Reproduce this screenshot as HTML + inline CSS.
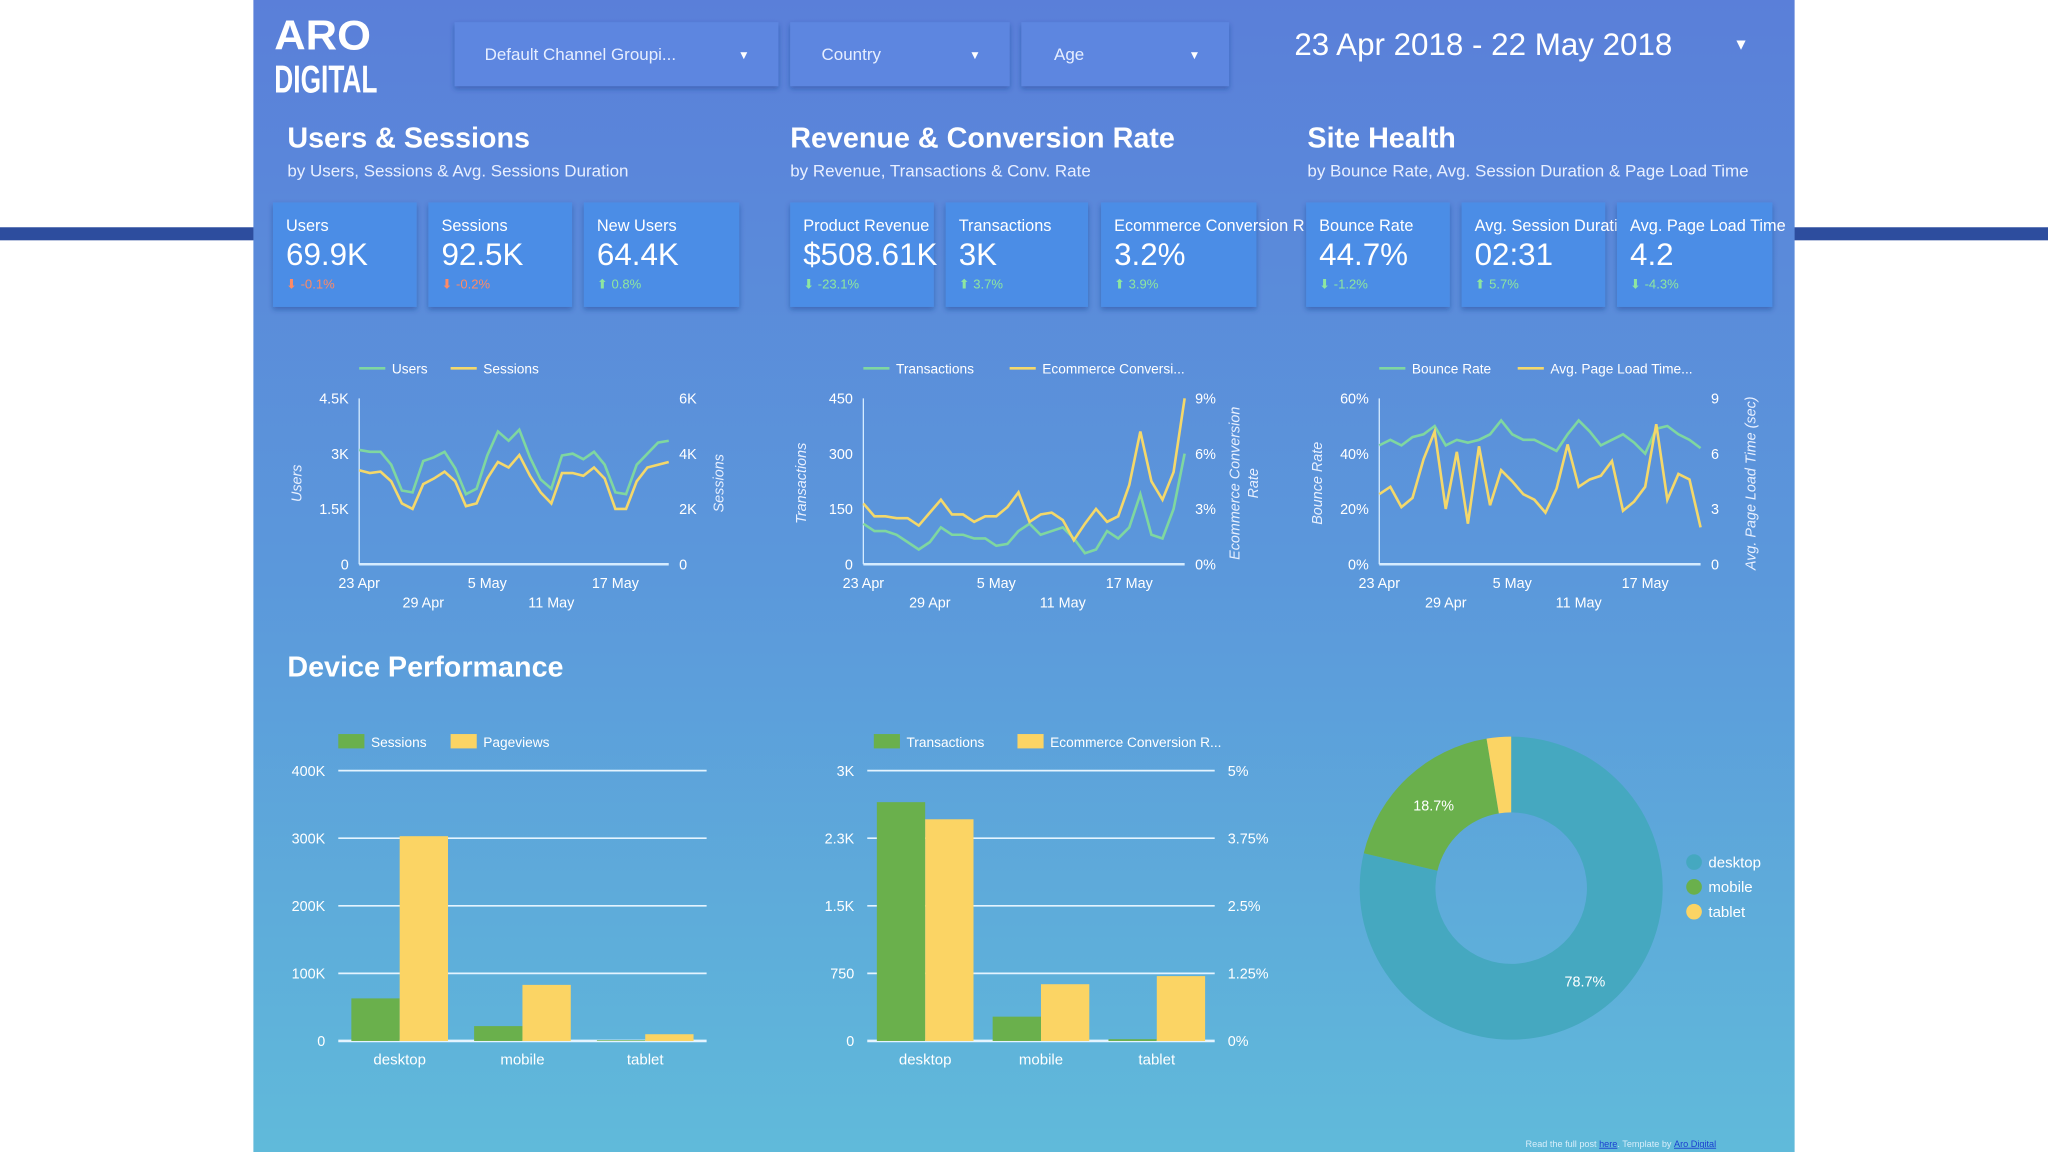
<!DOCTYPE html>
<html><head><meta charset="utf-8">
<style>
html,body{margin:0;padding:0;background:#fff;width:2048px;height:1152px;overflow:hidden}
svg{display:block;font-family:"Liberation Sans",sans-serif}
</style></head>
<body>
<svg id="root" width="2048" height="1152" viewBox="0 0 1568 882" xmlns="http://www.w3.org/2000/svg">
<defs>
<linearGradient id="bg" x1="0" y1="0" x2="0" y2="1">
<stop offset="0" stop-color="#5a7fd9"/><stop offset="0.5" stop-color="#5b98db"/><stop offset="1" stop-color="#60bada"/>
</linearGradient>
<filter id="sh" x="-10%" y="-10%" width="130%" height="140%"><feDropShadow dx="0" dy="2" stdDeviation="2" flood-color="#1d3c8a" flood-opacity="0.45"/></filter>
</defs>
<rect x="0" y="174" width="200" height="10" fill="#2d4d9e"/>
<rect x="1368" y="174" width="200" height="10" fill="#2d4d9e"/>
<rect x="194" y="0" width="1180" height="882" fill="url(#bg)"/>
<g fill="#fff" font-weight="bold">
<text x="210" y="38" font-size="32" textLength="74" lengthAdjust="spacingAndGlyphs">ARO</text>
<text x="210" y="71" font-size="30" textLength="79" lengthAdjust="spacingAndGlyphs">DIGITAL</text>
</g>
<g><rect x="348" y="17" width="248" height="49" fill="#5d86e0" filter="url(#sh)"/><text x="371" y="46" font-size="13" fill="#e6eeff">Default Channel Groupi...</text><text x="565" y="45" font-size="9" fill="#fff">▼</text></g>
<g><rect x="605" y="17" width="168" height="49" fill="#5d86e0" filter="url(#sh)"/><text x="629" y="46" font-size="13" fill="#e6eeff">Country</text><text x="742" y="45" font-size="9" fill="#fff">▼</text></g>
<g><rect x="782" y="17" width="159" height="49" fill="#5d86e0" filter="url(#sh)"/><text x="807" y="46" font-size="13" fill="#e6eeff">Age</text><text x="910" y="45" font-size="9" fill="#fff">▼</text></g>
<g><text x="991" y="42" font-size="24" fill="#fff">23 Apr 2018 - 22 May 2018</text><text x="1327" y="38" font-size="12" fill="#fff">▼</text></g>

<g fill="#fff">
<text x="220" y="113" font-size="22" font-weight="bold">Users &amp; Sessions</text>
<text x="220" y="135" font-size="13" fill="#e8efff">by Users, Sessions &amp; Avg. Sessions Duration</text>
<text x="605" y="113" font-size="22" font-weight="bold">Revenue &amp; Conversion Rate</text>
<text x="605" y="135" font-size="13" fill="#e8efff">by Revenue, Transactions &amp; Conv. Rate</text>
<text x="1001" y="113" font-size="22" font-weight="bold">Site Health</text>
<text x="1001" y="135" font-size="13" fill="#e8efff">by Bounce Rate, Avg. Session Duration &amp; Page Load Time</text>
<text x="220" y="518" font-size="22" font-weight="bold">Device Performance</text>
</g>
<g id="cards"></g>
<g id="charts"></g>
<text x="1168" y="878" font-size="7" fill="#d8eefa">Read the full post <tspan fill="#1a3fd0" text-decoration="underline">here</tspan>. Template by <tspan fill="#1a3fd0" text-decoration="underline">Aro Digital</tspan></text>
</svg>
<script>
// ---- KPI data ----
const kpiLabels = ["Users","Sessions","New Users","Product Revenue","Transactions","Ecommerce Conversion R","Bounce Rate","Avg. Session Duration","Avg. Page Load Time"];
const kpiValues = ["69.9K","92.5K","64.4K","$508.61K","3K","3.2%","44.7%","02:31","4.2"];
const kpiDeltas = ["-0.1%","-0.2%","0.8%","-23.1%","3.7%","3.9%","-1.2%","5.7%","-4.3%"];
const kpiUp = [false,false,true,false,true,true,false,true,false];
const kpiGood = [false,false,true,true,true,true,true,true,true];

// ---- line chart data (30 days) ----
const dateTicks = ["23 Apr","29 Apr","5 May","11 May","17 May"];
const dateTickIdx = [0,6,12,18,24];
const usersSeries = [3.1,3.05,3.05,2.7,2.0,1.95,2.8,2.9,3.05,2.6,1.9,2.05,2.95,3.6,3.35,3.65,2.9,2.3,2.05,2.95,3.0,2.85,3.05,2.7,1.95,1.9,2.7,3.0,3.3,3.35];
const sessionsSeries = [3.4,3.3,3.35,3.0,2.2,2.0,2.9,3.1,3.35,3.0,2.1,2.2,3.1,3.7,3.5,3.95,3.2,2.6,2.2,3.3,3.3,3.2,3.5,3.1,2.0,2.0,3.0,3.5,3.6,3.7];
const transSeries = [110,90,90,80,60,40,60,100,80,80,70,70,50,55,90,110,80,90,100,70,30,40,90,70,100,190,80,70,150,300];
const convSeries = [3.3,2.6,2.6,2.5,2.5,2.1,2.8,3.5,2.7,2.7,2.3,2.6,2.6,3.1,3.9,2.3,2.7,2.8,2.4,1.3,2.2,3.0,2.3,2.6,4.3,7.2,4.5,3.5,5.0,9.0];
const bounceSeries = [43,45,43,46,47,50,43,45,44,45,47,52,47,45,45,43,41,47,52,48,43,45,47,44,40,49,50,47,45,42];
const loadSeries = [3.8,4.2,3.1,3.6,5.7,7.2,3.0,6.1,2.2,6.4,3.2,5.1,4.5,3.8,3.5,2.8,4.1,6.5,4.2,4.6,4.8,5.6,2.9,3.4,4.2,7.6,3.5,4.9,4.6,2.0];

// ---- bar / donut data ----
const devices = ["desktop","mobile","tablet"];
const devSessions = [63,22,1];
const devPageviews = [303,83,10];
const devTransactions = [2.65,0.27,0.02];
const devConvRate = [4.1,1.05,1.2];
const devShare = [78.7,18.7,2.6];

const NS="http://www.w3.org/2000/svg";
function mk(tag,attrs,parent,text){const e=document.createElementNS(NS,tag);for(const k in attrs)e.setAttribute(k,attrs[k]);if(text!==undefined)e.textContent=text;parent.appendChild(e);return e;}
const cards=document.getElementById('cards');
const charts=document.getElementById('charts');
const GREEN="#7fd7a0", YEL="#f4d86a", BG="#6ab04c", BY="#fbd464", TEAL="#45a8c0";

// cards
const cardX=[209,328,447,605,724,843,1000,1119,1238];
const cardW=[110,110,119,110,109,119,110,110,119];
kpiLabels.forEach((l,i)=>{
  const g=mk('g',{},cards);
  
  
  mk('rect',{x:cardX[i],y:155,width:cardW[i],height:80,fill:"#4c8de6",filter:"url(#sh)"},g);
  mk('text',{x:cardX[i]+10,y:177,'font-size':12.5,fill:"#fff"},g,l);
  mk('text',{x:cardX[i]+10,y:203,'font-size':24,fill:"#fff"},g,kpiValues[i]);
  mk('text',{x:cardX[i]+10,y:221,'font-size':10,fill:kpiGood[i]?"#8ee6a0":"#ff8a65"},g,(kpiUp[i]?"⬆ ":"⬇ ")+kpiDeltas[i]);
});

function lineChart(name,x0,x1,leftMax,leftTicks,rightMax,rightTicks,s1,s2,legend,leftTitle,rightTitle){
  const g=mk('g',{},charts);
  
  
  const y0=432,yt=305,n=s1.length;
  const xs=i=>x0+(x1-x0)*i/(n-1);
  const yl=v=>y0-(y0-yt)*v/leftMax;
  const yr=v=>y0-(y0-yt)*v/rightMax;
  mk('line',{x1:x0,y1:yt,x2:x0,y2:y0,stroke:"#d5ecff","stroke-width":1},g);
  mk('line',{x1:x0,y1:y0,x2:x1,y2:y0,stroke:"#d5ecff","stroke-width":2},g);
  leftTicks.forEach((t,i)=>{const v=leftMax*i/(leftTicks.length-1);const e=mk('text',{x:x0-8,y:yl(v)+4,'font-size':11,fill:"#fff",'text-anchor':'end'},g,t);});
  rightTicks.forEach((t,i)=>{const v=rightMax*i/(rightTicks.length-1);const e=mk('text',{x:x1+8,y:yr(v)+4,'font-size':11,fill:"#fff"},g,t);});
  dateTicks.forEach((t,i)=>{const e=mk('text',{x:xs(dateTickIdx[i]),y:i%2?465:450,'font-size':11,fill:"#fff",'text-anchor':'middle'},g,t);});
  const p1=mk('polyline',{points:s1.map((v,i)=>xs(i)+','+yl(v)).join(' '),fill:'none',stroke:GREEN,'stroke-width':2},g);
  
  
  const p2=mk('polyline',{points:s2.map((v,i)=>xs(i)+','+yr(v)).join(' '),fill:'none',stroke:YEL,'stroke-width':2},g);
  
  
  const lx=x0;
  const lg=mk('g',{},g);
  
  
  mk('line',{x1:lx,y1:282,x2:lx+20,y2:282,stroke:GREEN,'stroke-width':2},lg);
  mk('text',{x:lx+25,y:286,'font-size':10.5,fill:"#fff"},lg,legend[0]);
  const l2=lx+legend[0].length*6+40;
  mk('line',{x1:l2,y1:282,x2:l2+20,y2:282,stroke:YEL,'stroke-width':2},lg);
  mk('text',{x:l2+25,y:286,'font-size':10.5,fill:"#fff"},lg,legend[1]);
  const a=mk('text',{transform:`translate(${x0-44},370) rotate(-90)`,'font-size':11,fill:"#e8f0ff",'text-anchor':'middle','font-style':'italic'},g,leftTitle);
  
  const rt=rightTitle.split('|');
  rt.forEach((s,k)=>{
    const b=mk('text',{transform:`translate(${x1+42+k*14},370) rotate(-90)`,'font-size':11,fill:"#e8f0ff",'text-anchor':'middle','font-style':'italic'},g,s);
    
  });
}
lineChart('users-sessions-chart',275,512,4.5,["0","1.5K","3K","4.5K"],6,["0","2K","4K","6K"],usersSeries,sessionsSeries,["Users","Sessions"],"Users","Sessions");
lineChart('transactions-conversion-chart',661,907,450,["0","150","300","450"],9,["0%","3%","6%","9%"],transSeries,convSeries,["Transactions","Ecommerce Conversi..."],"Transactions","Ecommerce Conversion|Rate");
lineChart('bounce-load-chart',1056,1302,60,["0%","20%","40%","60%"],9,["0","3","6","9"],bounceSeries,loadSeries,["Bounce Rate","Avg. Page Load Time..."],"Bounce Rate","Avg. Page Load Time (sec)");

function barChart(name,x0,x1,lMax,lTicks,rMax,rTicks,s1,s2,legend){
  const g=mk('g',{},charts);
  
  
  const y0=797,yt=590;
  const yl=v=>y0-(y0-yt)*v/lMax, yr=v=>y0-(y0-yt)*v/rMax;
  lTicks.forEach((t,i)=>{const v=lMax*i/(lTicks.length-1);
    mk('line',{x1:x0,y1:yl(v),x2:x1,y2:yl(v),stroke:"#e4f4ff",'stroke-width':i==0?2:1.3},g);
    const e=mk('text',{x:x0-10,y:yl(v)+4,'font-size':11,fill:"#fff",'text-anchor':'end'},g,t);});
  if(rTicks) rTicks.forEach((t,i)=>{const v=rMax*i/(rTicks.length-1);const e=mk('text',{x:x1+10,y:yr(v)+4,'font-size':11,fill:"#fff"},g,t);});
  const bw=(x1-x0)/3;
  devices.forEach((d,i)=>{
    const cx=x0+bw*(i+0.5);
    const b1=mk('rect',{x:cx-37,y:yl(s1[i]),width:37,height:y0-yl(s1[i]),fill:BG},g);
    
    
    const sc=rTicks?yr:yl;
    const b2=mk('rect',{x:cx,y:sc(s2[i]),width:37,height:y0-sc(s2[i]),fill:BY},g);
    
    
    const t=mk('text',{x:cx,y:815,'font-size':11.5,fill:"#fff",'text-anchor':'middle'},g,d);
    
    
  });
  const lg=mk('g',{},g);
  
  
  const lx=x0+(rTicks?5:0);
  mk('rect',{x:lx,y:562,width:20,height:11,fill:BG},lg);
  mk('text',{x:lx+25,y:572,'font-size':10.5,fill:"#fff"},lg,legend[0]);
  const l2=lx+legend[0].length*6+38;
  mk('rect',{x:l2,y:562,width:20,height:11,fill:BY},lg);
  mk('text',{x:l2+25,y:572,'font-size':10.5,fill:"#fff"},lg,legend[1]);
}
barChart('sessions-pageviews-bar-chart',259,541,400,["0","100K","200K","300K","400K"],null,null,devSessions,devPageviews,["Sessions","Pageviews"]);
barChart('transactions-conversion-bar-chart',664,930,3,["0","750","1.5K","2.3K","3K"],5,["0%","1.25%","2.5%","3.75%","5%"],devTransactions,devConvRate,["Transactions","Ecommerce Conversion R..."]);

// donut
(function(){
  const g=mk('g',{},charts);
  
  
  const cx=1157,cy=680,R=116,r=58,cols=[TEAL,BG,BY];
  const total=devShare.reduce((a,b)=>a+b,0);
  let a0=0;
  devShare.forEach((v,i)=>{
    const a1=a0+v/total*2*Math.PI;
    const P=(rad,a)=>[cx+rad*Math.sin(a),cy-rad*Math.cos(a)];
    const [x1,y1]=P(R,a0),[x2,y2]=P(R,a1),[x3,y3]=P(r,a1),[x4,y4]=P(r,a0);
    const lg=(a1-a0)>Math.PI?1:0;
    const p=mk('path',{d:`M${x1},${y1}A${R},${R} 0 ${lg} 1 ${x2},${y2}L${x3},${y3}A${r},${r} 0 ${lg} 0 ${x4},${y4}Z`,fill:cols[i]},g);
    
    
    if(v>5){const am=(a0+a1)/2;const [tx,ty]=P((R+r)/2+ (v>50?4:0),am);
      const t=mk('text',{x:tx,y:ty+4,'font-size':11,fill:"#fff",'text-anchor':'middle'},g,v.toFixed(1)+'%');
      
      }
    a0=a1;
  });
  devices.forEach((d,i)=>{
    const lg=mk('g',{},g);
    
    
    mk('circle',{cx:1297,cy:660+i*19,r:6,fill:cols[i]},lg);
    mk('text',{x:1308,y:664+i*19,'font-size':11.5,fill:"#fff"},lg,d);
  });
})();
</script>
</body></html>
